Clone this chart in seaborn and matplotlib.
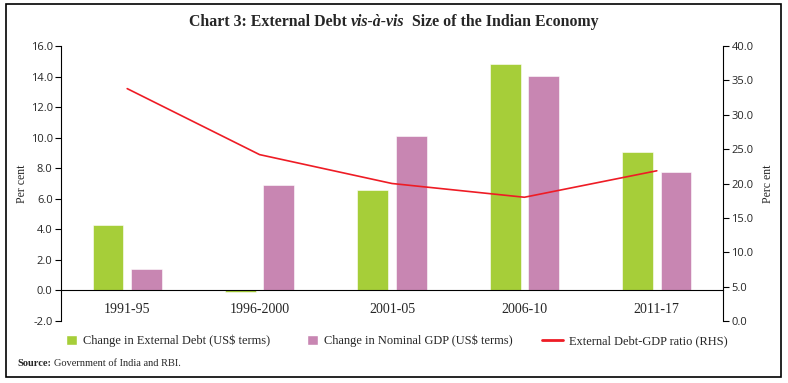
import matplotlib
matplotlib.use("Agg")
import matplotlib.pyplot as plt
import pandas as pd
import seaborn as sns
from matplotlib.patches import Patch, Rectangle
from matplotlib.lines import Line2D

periods = ["1991-95", "1996-2000", "2001-05", "2006-10", "2011-17"]
debt_change = [4.3, -0.1, 6.6, 14.85, 9.05]
gdp_change = [1.4, 6.9, 10.1, 14.05, 7.75]
debt_gdp_ratio = [33.8, 24.2, 20.0, 18.0, 21.85]

series_names = ["Change in External Debt (US$ terms)", "Change in Nominal GDP (US$ terms)"]
line_name = "External Debt-GDP ratio (RHS)"
colors = {series_names[0]: "#A6CE39", series_names[1]: "#C886B2"}
line_color = "#EE1C25"

df = pd.DataFrame({
    "period": periods * 2,
    "value": debt_change + gdp_change,
    "series": [series_names[0]] * 5 + [series_names[1]] * 5,
})

sns.set_style("white")
serif = ["Liberation Serif", "DejaVu Serif"]
sans = ["Open Sans", "DejaVu Sans"]
plt.rcParams["font.family"] = serif

W, H = 788, 383
fig = plt.figure(figsize=(W / 100, H / 100), dpi=100)
ax = fig.add_axes([61 / W, 1 - 321 / H, (723 - 61) / W, (321 - 46) / H])

sns.barplot(data=df, x="period", y="value", hue="series", hue_order=series_names,
            palette=colors, width=0.58, gap=0.2, ax=ax, legend=False,
            edgecolor="white", linewidth=0.4, saturation=1)

ax.set_xlim(-0.5, 4.5)
ax.set_ylim(-2, 16)
ax.set_yticks(range(-2, 17, 2))
ax.set_yticklabels([f"{v:.1f}" for v in range(-2, 17, 2)], family=sans, fontsize=8)
ax.set_xticks(range(len(periods)))
ax.set_xticklabels(periods, fontsize=8.5)
ax.set_xticks([0.5, 1.5, 2.5, 3.5], minor=True)
ax.tick_params(axis="x", which="major", length=0, pad=9)
ax.tick_params(axis="x", which="minor", length=4, width=0.8, direction="out", color="black")
ax.tick_params(axis="y", length=4, width=0.8, direction="out", color="black", pad=2)
ax.spines["bottom"].set_position(("data", 0))
ax.spines["top"].set_visible(False)
ax.spines["right"].set_visible(False)
for s in ["left", "bottom"]:
    ax.spines[s].set_color("black")
    ax.spines[s].set_linewidth(0.8)
ax.set_xlabel("")
ax.set_ylabel("Per cent", fontsize=8.5, labelpad=2)

ax2 = ax.twinx()
sns.lineplot(x=periods, y=debt_gdp_ratio, sort=False, color=line_color, linewidth=1.2, ax=ax2)
ax2.set_ylim(0, 40)
ax2.set_yticks(range(0, 41, 5))
ax2.set_yticklabels([f"{v:.1f}" for v in range(0, 41, 5)], family=sans, fontsize=8)
ax2.tick_params(axis="y", length=4, width=0.8, direction="out", color="black", pad=2)
for s in ["left", "bottom", "top"]:
    ax2.spines[s].set_visible(False)
ax2.spines["right"].set_color("black")
ax2.spines["right"].set_linewidth(0.8)
ax2.set_ylabel("Perc ent", fontsize=8.5, rotation=90, labelpad=6)
ax2.set_xlim(-0.5, 4.5)

# title with italic middle part
fig.canvas.draw()
renderer = fig.canvas.get_renderer()
parts = [("Chart 3: External Debt ", "normal"), ("vis-à-vis", "italic"),
         ("  Size of the Indian Economy", "normal")]
texts = []
for s, style in parts:
    t = fig.text(0, 1 - 22 / H, s, fontsize=11.4, fontweight="bold", style=style, va="center")
    texts.append(t)
widths = [t.get_window_extent(renderer).width for t in texts]
x = 394 - sum(widths) / 2
for t, w in zip(texts, widths):
    t.set_x(x / W)
    x += w

# legend entries
ly = 1 - 341 / H
leg_items = [
    (Patch(facecolor=colors[series_names[0]]), series_names[0], 66, 0.9, 0.9),
    (Patch(facecolor=colors[series_names[1]]), series_names[1], 307, 0.9, 0.9),
    (Line2D([], [], color=line_color, lw=2), line_name, 542, 1.7, 0.8),
]
for handle, label, lx, hl, hh in leg_items:
    fig.legend([handle], [label], loc="center left", bbox_to_anchor=(lx / W, ly),
               frameon=False, fontsize=8.9, handlelength=hl, handleheight=hh,
               handletextpad=0.45, borderpad=0, borderaxespad=0)

fig.text(17 / W, 1 - 364 / H, "Source:", fontsize=7.5, fontweight="bold", va="center")
src = fig.texts[-1]
fig.canvas.draw()
sw = src.get_window_extent(fig.canvas.get_renderer()).width
fig.text((17 + sw + 3) / W, 1 - 364 / H, "Government of India and RBI.", fontsize=7.5, va="center")

fig.patches.append(Rectangle((6 / W, 1 - 377 / H), 775 / W, 373 / H, transform=fig.transFigure,
                             fill=False, edgecolor="black", linewidth=1.2))

fig.savefig("out.png", dpi=100)
